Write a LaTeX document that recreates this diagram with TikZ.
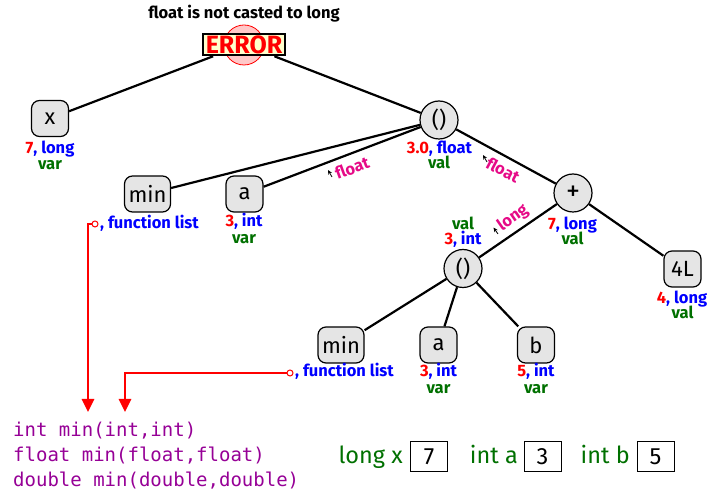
\documentclass[tikz,border=0pt]{standalone}
\usepackage{fontspec}
\setmainfont{Fira Sans}
\newfontfamily\codefont{DejaVu Sans Mono}
\usetikzlibrary{arrows.meta}
\definecolor{vred}{RGB}{255,0,0}
\definecolor{vblue}{RGB}{0,0,255}
\definecolor{vgreen}{RGB}{0,112,0}
\definecolor{vmag}{RGB}{230,10,135}
\definecolor{vpurple}{RGB}{150,0,150}
\definecolor{nodefill}{gray}{0.9}
\definecolor{errfill}{RGB}{255,255,204}
\definecolor{errpink}{RGB}{255,200,200}
\newcommand\lab[2]{\textcolor{vred}{#1}\textcolor{vblue}{, #2}}
\begin{document}
\begin{tikzpicture}[x=1pt,y=-1pt,
  tnode/.style={draw=black, line width=1.2pt, fill=nodefill, rounded corners=8pt,
    minimum width=37pt, minimum height=36pt, inner sep=1pt,
    font=\fontsize{22}{24}\selectfont},
  cnode/.style={draw=black, line width=1.2pt, fill=nodefill, circle,
    minimum size=38pt, inner sep=0pt, font=\fontsize{22}{24}\selectfont},
  edge/.style={line width=2.2pt, black},
  lbl/.style={inner sep=0pt, font=\bfseries\fontsize{16.5}{18}\selectfont,
    text height=12pt, text depth=3pt},
  kind/.style={lbl, text=vgreen},
  conv/.style={inner sep=0pt, font=\bfseries\fontsize{16.5}{18}\selectfont, text=vmag},
  cursor/.style={line width=0.8pt, black, -{Stealth[length=4.5pt,width=4pt]}},
  redarr/.style={line width=2.7pt, vred, -{Triangle[length=13pt,width=12pt]}},
  opendot/.style={draw=vred, fill=white, line width=1pt},
  code/.style={inner sep=0pt, anchor=base west, text=vpurple,
    font=\codefont\fontsize{19}{22}\selectfont},
  decl/.style={inner sep=0pt, anchor=base east, text=vgreen,
    font=\fontsize{23.5}{26}\selectfont},
  valbox/.style={draw=black, line width=1pt, minimum width=37pt, minimum height=30pt,
    inner sep=0pt, font=\fontsize{23.5}{26}\selectfont}
]
\useasboundingbox (0,0) rectangle (716,494);

% title and error
\node[inner sep=0pt, font=\bfseries\fontsize{16.5}{18}\selectfont] (title) at (244,14) {float is not casted to long};
\node[circle, fill=errpink, draw=vred, line width=0.8pt, minimum size=40pt, inner sep=0pt] (errc) at (244,45) {};
\node[draw=black, line width=2.4pt, fill=errfill, text=vred, inner xsep=3pt, inner ysep=1.5pt,
  font=\bfseries\fontsize{25}{26}\selectfont] (err) at (244,44.5) {ERROR};

% tree nodes
\node[tnode] (x) at (50,118.5) {x};
\node[cnode] (call1) at (439,120) {()};
\node[tnode, minimum width=46pt] (min1) at (147.5,194) {min};
\node[tnode] (a1) at (244.5,194) {a};
\node[cnode, font=\fontsize{28}{28}\selectfont] (plus) at (573,193) {+};
\node[cnode] (call2) at (463,268.5) {()};
\node[tnode] (c4L) at (682.5,269) {4L};
\node[tnode, minimum width=46pt] (min2) at (341,345) {min};
\node[tnode] (a2) at (438.5,345) {a};
\node[tnode] (b2) at (536,345) {b};

% edges
\draw[edge] (err) -- (x);
\draw[edge] (err) -- (call1);
\draw[edge] (call1) -- (min1);
\draw[edge] (call1) -- (a1);
\draw[edge] (call1) -- (plus);
\draw[edge] (plus) -- (call2);
\draw[edge] (plus) -- (c4L);
\draw[edge] (call2) -- (min2);
\draw[edge] (call2) -- (a2);
\draw[edge] (call2) -- (b2);

% labels
\node[lbl] (lx1) at (50,149) {\lab{7}{long}};
\node[kind] (lx2) at (50,165) {var};
\node[lbl] (lc1) at (439.5,149) {\lab{3.0}{float}};
\node[kind] (lc2) at (439,164) {val};
\node[lbl] (la1) at (244,222.5) {\lab{3}{int}};
\node[kind] (la2) at (244,239) {var};
\node[lbl, anchor=west, text=vblue] (fl1) at (100,224) {, function list};
\node[lbl] (lp1) at (572.5,225) {\lab{7}{long}};
\node[kind] (lp2) at (572.5,240.5) {val};
\node[kind] (lq1) at (463,225) {val};
\node[lbl] (lq2) at (463,240) {\lab{3}{int}};
\node[lbl] (l4a) at (682,299) {\lab{4}{long}};
\node[kind] (l4b) at (682.5,314.5) {val};
\node[lbl, anchor=west, text=vblue] (fl2) at (295,372) {, function list};
\node[lbl] (lb1) at (438.5,372) {\lab{3}{int}};
\node[kind] (lb2) at (438.5,389) {var};
\node[lbl] (lc5) at (536,372) {\lab{5}{int}};
\node[kind] (lc6) at (536,389) {var};

% conversion labels on edges
\node[conv, rotate=20] (cv1) at (352,168) {float};
\draw[cursor] (332,177) -- (328,170);
\node[conv, rotate=-28] (cv2) at (503,170) {float};
\draw[cursor] (487,162) -- (483,155);
\node[conv, rotate=35] (cv3) at (513,218) {long};
\draw[cursor] (498,234) -- (493.5,227.5);

% function list pointers
\coordinate (fs1) at (95,224);
\coordinate (fe1) at (88,412);
\coordinate (fs2) at (290,373);
\coordinate (fe2) at (125,412);
\draw[redarr] (fs1) -| (fe1);
\draw[redarr] (fs2) -| (fe2);
\draw[opendot] (fs1) circle (3);
\draw[opendot] (fs2) circle (3);

% code
\node[code] (code1) at (13,437) {int min(int,int)};
\node[code] (code2) at (13,462) {float min(float,float)};
\node[code] (code3) at (13,487) {double min(double,double)};

% declarations
\node[decl] (dx) at (403,464) {long x};
\node[valbox] (bx) at (429,457) {7};
\node[decl] (da) at (518,464) {int a};
\node[valbox] (ba) at (542.5,457) {3};
\node[decl] (db) at (630,464) {int b};
\node[valbox] (bb) at (655.5,457) {5};
\end{tikzpicture}
\end{document}
